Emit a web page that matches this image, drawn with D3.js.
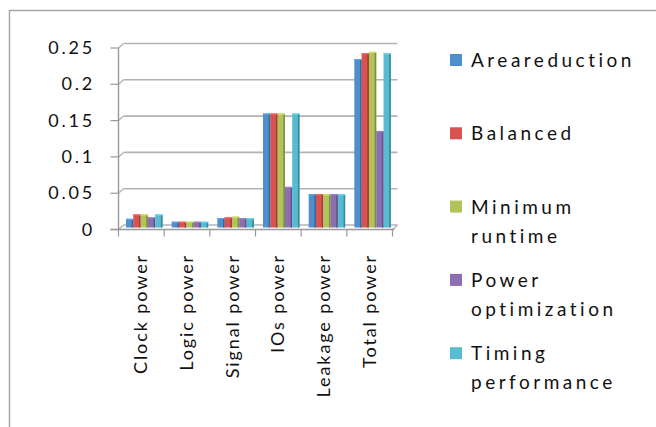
<!DOCTYPE html>
<html>
<head>
<meta charset="utf-8">
<script src="https://cdn.jsdelivr.net/npm/d3@7"></script>
<style>
  html, body { margin: 0; padding: 0; background: #fff; }
  svg { display: block; }
  text { font-family: Lato, "Liberation Sans", Arial, sans-serif; fill: #111; }
</style>
</head>
<body>
<svg id="chart" width="656" height="427"></svg>
<script>
// Power components (categories) and optimisation strategies (series)
const categories = ["Clock power", "Logic power", "Signal power", "IOs power", "Leakage power", "Total power"];
const seriesNames = ["Areareduction", "Balanced", "Minimum runtime", "Power optimization", "Timing performance"];
const legendLines = [["Areareduction"], ["Balanced"], ["Minimum", "runtime"], ["Power", "optimization"], ["Timing", "performance"]];
const seriesColors = ["#4f8fcc", "#d8534f", "#b2c35a", "#8a70b0", "#57bcd2"];

// Values per series, in category order
const areaReduction     = [0.012, 0.008, 0.013, 0.157, 0.046, 0.232];
const balanced          = [0.018, 0.008, 0.014, 0.157, 0.046, 0.240];
const minimumRuntime    = [0.018, 0.008, 0.015, 0.157, 0.046, 0.242];
const powerOptimization = [0.014, 0.008, 0.013, 0.056, 0.046, 0.133];
const timingPerformance = [0.018, 0.008, 0.013, 0.157, 0.046, 0.240];
const seriesValues = [areaReduction, balanced, minimumRuntime, powerOptimization, timingPerformance];

const yTicks = [0, 0.05, 0.1, 0.15, 0.2, 0.25];
const yTickLabels = ["0", "0.05", "0.1", "0.15", "0.2", "0.25"];

const svg = d3.select("#chart");

// Outer chart frame (runs off the right and bottom edges)
svg.append("rect")
  .attr("x", 9.5).attr("y", 10.5)
  .attr("width", 720).attr("height", 500)
  .attr("fill", "none").attr("stroke", "#a6a6a6").attr("stroke-width", 1.5);

// Plot geometry: front plane and a shifted back wall for the 3-D look
const left = 118.5, right = 392.5;
const depthX = 5, depthY = -4.5;

const x0 = d3.scaleBand().domain(categories).range([left, right]).padding(0);
const x1 = d3.scaleBand().domain(seriesNames).range([7.5, 44]).padding(0);
const yFront = d3.scaleLinear().domain([0, 0.25]).range([229.5, 48]);
const yBar = d3.scaleLinear().domain([0, 0.25]).range([227.5, 46]);

const grid = svg.append("g");
yTicks.forEach((t, i) => {
  const yf = yFront(t);
  // back-wall gridline
  grid.append("line")
    .attr("x1", left + depthX).attr("x2", right + depthX)
    .attr("y1", yf + depthY).attr("y2", yf + depthY)
    .attr("stroke", "#b3b3b3").attr("stroke-width", 1.6);
  // side-wall connector
  grid.append("line")
    .attr("x1", left).attr("x2", left + depthX)
    .attr("y1", yf).attr("y2", yf + depthY)
    .attr("stroke", "#b3b3b3").attr("stroke-width", 1.4);
  // tick mark on the value axis
  grid.append("line")
    .attr("x1", left - 8).attr("x2", left)
    .attr("y1", yf).attr("y2", yf)
    .attr("stroke", "#999").attr("stroke-width", 1.2);
  // tick label
  svg.append("text")
    .attr("x", 95).attr("y", yf + 6)
    .attr("text-anchor", "end")
    .style("font-size", "18px").style("letter-spacing", "2.8px")
    .text(yTickLabels[i]);
});

// Value axis line
grid.append("line")
  .attr("x1", left).attr("x2", left)
  .attr("y1", yFront(0.25)).attr("y2", yFront(0))
  .attr("stroke", "#999").attr("stroke-width", 1.4);

// Right edge of the back wall
grid.append("line")
  .attr("x1", right).attr("x2", right + depthX)
  .attr("y1", yFront(0)).attr("y2", yFront(0) + depthY)
  .attr("stroke", "#b3b3b3").attr("stroke-width", 1.2);

// Bars
const bars = svg.append("g");
categories.forEach((c, ci) => {
  seriesNames.forEach((s, si) => {
    const v = seriesValues[si][ci];
    const bx = x0(c) + x1(s);
    const bw = x1.bandwidth();
    const top = yBar(v);
    const color = d3.color(seriesColors[si]);
    bars.append("rect")
      .attr("x", bx).attr("y", top)
      .attr("width", bw).attr("height", yBar(0) - top)
      .attr("fill", seriesColors[si]);
    // darker side face
    bars.append("rect")
      .attr("x", bx + bw - 1.6).attr("y", top + 0.5)
      .attr("width", 1.6).attr("height", yBar(0) - top - 0.5)
      .attr("fill", color.darker(0.9).formatHex());
    // lighter top face
    bars.append("rect")
      .attr("x", bx).attr("y", top)
      .attr("width", bw).attr("height", 1.2)
      .attr("fill", color.brighter(0.4).formatHex());
  });
});

// Category axis line and ticks
grid.append("line")
  .attr("x1", left - 8).attr("x2", right + 2)
  .attr("y1", yFront(0)).attr("y2", yFront(0))
  .attr("stroke", "#999").attr("stroke-width", 1.4);
const bounds = categories.map(c => x0(c)).concat([right]);
bounds.forEach(bx => {
  grid.append("line")
    .attr("x1", bx).attr("x2", bx)
    .attr("y1", yFront(0)).attr("y2", yFront(0) + 7)
    .attr("stroke", "#999").attr("stroke-width", 1.2);
});

// Rotated category labels
categories.forEach(c => {
  const cx = x0(c) + x0.bandwidth() / 2;
  svg.append("text")
    .attr("transform", `translate(${cx + 6},254) rotate(-90)`)
    .attr("text-anchor", "end")
    .style("font-size", "18px").style("letter-spacing", "1.9px")
    .text(c);
});

// Legend
const legend = svg.append("g");
legendLines.forEach((lines, i) => {
  const baseY = 67 + i * 73.3;
  legend.append("rect")
    .attr("x", 450).attr("y", baseY - 13)
    .attr("width", 12).attr("height", 12)
    .attr("fill", seriesColors[i]);
  lines.forEach((ln, li) => {
    legend.append("text")
      .attr("x", 471).attr("y", baseY + li * 29)
      .style("font-size", "19px").style("letter-spacing", "3.5px")
      .text(ln);
  });
});
</script>
</body>
</html>
